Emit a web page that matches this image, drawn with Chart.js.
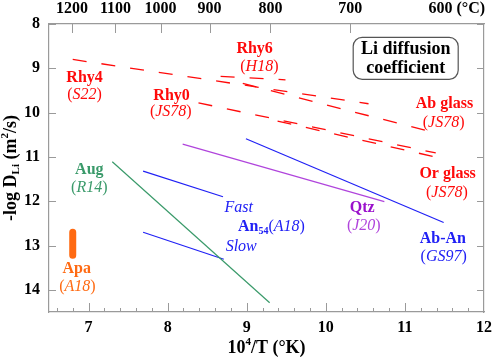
<!DOCTYPE html>
<html>
<head>
<meta charset="utf-8">
<script src="https://cdn.jsdelivr.net/npm/chart.js@4.4.1/dist/chart.umd.min.js"></script>
<style>
  html, body { margin: 0; padding: 0; background: #fff; }
  #contenedor { width: 498px; height: 359px; }
</style>
</head>
<body>
<div id="contenedor"><canvas id="grafico" width="498" height="359"></canvas></div>
<script>
// x = 10^4/T (K), y = -log D_Li (m2/s); cada serie = extremos del segmento
const rhy4 = [[6.80, 8.80], [10.54, 9.80]];
const rhy6 = [[8.67, 9.18], [9.49, 9.26]];
const rhy0 = [[8.39, 9.78], [11.39, 10.91]];
const abGlass = [[8.95, 9.34], [11.39, 10.46]];
const orGlass = [[9.39, 10.19], [11.43, 11.02]];
const aug = [[7.30, 11.11], [9.29, 14.29]];
const an54Fast = [[7.69, 11.32], [8.70, 11.90]];
const an54Slow = [[7.69, 12.70], [8.71, 13.31]];
const qtz = [[8.19, 10.71], [10.74, 12.01]];
const abAn = [[8.99, 10.59], [11.49, 12.48]];
const apa = [[6.80, 12.70], [6.80, 13.22]];

const xTicks = [7, 8, 9, 10, 11, 12];
const yTicks = [8, 9, 10, 11, 12, 13, 14];
const tempLabels = [1200, 1100, 1000, 900, 800, 700, 600];   // °C
const tempPos = [6.79, 7.34, 7.91, 8.53, 9.30, 10.31, 11.45]; // donde caen en 10^4/T

const ROJO = '#ff0a0a';
const AZUL = '#2020f5';
const VERDE = '#3a9a6a';
const MORADO = '#b044dc';
const NARANJA = '#ff6a12';
const GRIS = '#9a9a9a';
const FAMILIA = '"Liberation Serif", "Times New Roman", serif';

const ref = txt => [['(', 'n'], [txt, 'i'], [')', 'n']];

// etiquetas en coordenadas de datos
const etiquetas = [
    { x: 6.95, y: 9.22, color: ROJO, partes: [['Rhy4', 'b']] },
    { x: 6.95, y: 9.60, color: ROJO, partes: ref('S22') },
    { x: 8.05, y: 9.62, color: ROJO, partes: [['Rhy0', 'b']] },
    { x: 8.04, y: 9.99, color: ROJO, partes: ref('JS78') },
    { x: 9.10, y: 8.56, color: ROJO, partes: [['Rhy6', 'b']] },
    { x: 9.16, y: 8.97, color: ROJO, partes: ref('H18') },
    { x: 11.50, y: 9.80, color: ROJO, partes: [['Ab glass', 'b']] },
    { x: 11.49, y: 10.23, color: ROJO, partes: ref('JS78') },
    { x: 11.54, y: 11.38, color: ROJO, partes: [['Or glass', 'b']] },
    { x: 11.53, y: 11.81, color: ROJO, partes: ref('JS78') },
    { x: 7.01, y: 11.29, color: VERDE, partes: [['Aug', 'b']] },
    { x: 7.01, y: 11.70, color: VERDE, partes: ref('R14') },
    { x: 8.90, y: 12.15, color: AZUL, partes: [['Fast', 'i']] },
    { x: 8.89, y: 12.58, color: AZUL, alinear: 'left', partes: [['An', 'b'], ['54', 'sub'], ...ref('A18')] },
    { x: 8.93, y: 13.03, color: AZUL, partes: [['Slow', 'i']] },
    { x: 10.46, y: 12.15, color: '#9a10cc', partes: [['Qtz', 'b']] },
    { x: 10.48, y: 12.56, color: MORADO, partes: ref('J20') },
    { x: 11.48, y: 12.85, color: AZUL, partes: [['Ab-An', 'b']] },
    { x: 11.49, y: 13.26, color: AZUL, partes: ref('GS97') },
    { x: 6.85, y: 13.53, color: NARANJA, partes: [['Apa', 'b']] },
    { x: 6.86, y: 13.93, color: NARANJA, partes: ref('A18') },
];

function fuente(estilo, tam) {
    if (estilo === 'b') return `bold ${tam}px ${FAMILIA}`;
    if (estilo === 'i') return `italic ${tam}px ${FAMILIA}`;
    if (estilo === 'sub' || estilo === 'sup') return `bold ${Math.round(tam * 0.62)}px ${FAMILIA}`;
    return `${tam}px ${FAMILIA}`;
}

function dibujarTexto(ctx, partes, x, y, tam, alinear) {
    ctx.textBaseline = 'middle';
    ctx.textAlign = 'left';
    let ancho = 0;
    partes.forEach(([t, e]) => { ctx.font = fuente(e, tam); ancho += ctx.measureText(t).width; });
    let cx = alinear === 'left' ? x : x - ancho / 2;
    partes.forEach(([t, e]) => {
        ctx.font = fuente(e, tam);
        let dy = 0;
        if (e === 'sub') dy = tam * 0.3;
        if (e === 'sup') dy = -tam * 0.32;
        ctx.fillText(t, cx, y + dy);
        cx += ctx.measureText(t).width;
    });
}

const decoracion = {
    id: 'decoracion',
    afterDraw(chart) {
        const { ctx, chartArea: a, scales } = chart;
        const sx = scales.x, sy = scales.y;
        ctx.save();

        // marcas hacia dentro
        ctx.strokeStyle = GRIS;
        ctx.lineWidth = 1;
        ctx.beginPath();
        for (let i = 33; i <= 59; i++) {
            const px = Math.round(sx.getPixelForValue(i / 5)) + 0.5;
            const largo = i % 5 === 0 ? 9 : 4;
            ctx.moveTo(px, a.bottom);
            ctx.lineTo(px, a.bottom - largo);
        }
        yTicks.forEach(v => {
            const py = Math.round(sy.getPixelForValue(v)) + 0.5;
            ctx.moveTo(a.left, py); ctx.lineTo(a.left + 7, py);
            ctx.moveTo(a.right, py); ctx.lineTo(a.right - 7, py);
        });
        // el 600 no lleva marca en el original
        tempPos.slice(0, -1).forEach(v => {
            const px = Math.round(sx.getPixelForValue(v)) + 0.5;
            ctx.moveTo(px, a.top); ctx.lineTo(px, a.top + 9);
        });
        ctx.stroke();

        // "(°C)" detras del 600
        ctx.fillStyle = '#000';
        ctx.font = fuente('b', 16);
        const ultimo = tempPos[tempPos.length - 1];
        const w600 = ctx.measureText(String(tempLabels[tempLabels.length - 1])).width;
        ctx.textAlign = 'left';
        ctx.textBaseline = 'middle';
        ctx.fillText(' (°C)', sx.getPixelForValue(ultimo) + w600 / 2, a.top - 15);

        // titulos de ejes
        dibujarTexto(ctx, [['10', 'b'], ['4', 'sup'], ['/T (°K)', 'b']], (a.left + a.right) / 2, a.bottom + 36, 18);
        ctx.save();
        ctx.translate(a.left - 38, (a.top + a.bottom) / 2);
        ctx.rotate(-Math.PI / 2);
        dibujarTexto(ctx, [['-log D', 'b'], ['Li', 'sub'], [' (m', 'b'], ['2', 'sup'], ['/s)', 'b']], 0, 0, 18);
        ctx.restore();

        // recuadro
        const bx = sx.getPixelForValue(11.01), by = sy.getPixelForValue(8.775);
        ctx.strokeStyle = '#555';
        ctx.lineWidth = 1.2;
        ctx.beginPath();
        ctx.roundRect(bx - 52.5, by - 21, 105, 42, 9);
        ctx.stroke();
        ctx.fillStyle = '#000';
        dibujarTexto(ctx, [['Li diffusion', 'b']], bx, by - 9, 18);
        dibujarTexto(ctx, [['coefficient', 'b']], bx, by + 10, 18);

        // etiquetas de las series
        etiquetas.forEach(et => {
            ctx.fillStyle = et.color;
            dibujarTexto(ctx, et.partes, sx.getPixelForValue(et.x), sy.getPixelForValue(et.y), 16, et.alinear);
        });
        ctx.restore();
    }
};

function serie(puntos, color, extra) {
    return Object.assign({
        data: puntos.map(([x, y]) => ({ x, y })),
        showLine: true,
        borderColor: color,
        borderWidth: 1.2,
        pointRadius: 0,
        fill: false
    }, extra || {});
}
const discontinua = { borderDash: [14, 15], borderWidth: 1.3 };

const fuenteTicks = { family: FAMILIA, size: 16, weight: 'bold' };

new Chart(document.getElementById('grafico'), {
    type: 'scatter',
    data: {
        datasets: [
            serie(rhy4, ROJO, discontinua),
            serie(rhy6, ROJO, discontinua),
            serie(rhy0, ROJO, discontinua),
            serie(abGlass, ROJO, discontinua),
            serie(orGlass, ROJO, discontinua),
            serie(aug, VERDE),
            serie(an54Fast, AZUL),
            serie(an54Slow, AZUL),
            serie(qtz, MORADO),
            serie(abAn, AZUL),
            serie(apa, NARANJA, { borderWidth: 7, borderCapStyle: 'round' })
        ]
    },
    plugins: [decoracion],
    options: {
        responsive: false,
        animation: false,
        layout: { padding: 0 },
        plugins: { legend: { display: false }, tooltip: { enabled: false } },
        scales: {
            x: {
                type: 'linear', position: 'bottom', min: 6.5, max: 12,
                afterBuildTicks: s => { s.ticks = xTicks.map(v => ({ value: v })); },
                afterFit: s => { s.height = 47; },
                grid: { display: false, drawTicks: false },
                border: { display: true, color: GRIS, width: 1.2 },
                ticks: { padding: 6, color: '#000', font: fuenteTicks, autoSkip: false, maxRotation: 0 }
            },
            xTop: {
                axis: 'x', type: 'linear', position: 'top', min: 6.5, max: 12,
                afterBuildTicks: s => { s.ticks = tempPos.map(v => ({ value: v })); },
                afterFit: s => { s.height = 24; },
                grid: { display: false, drawTicks: false },
                border: { display: true, color: GRIS, width: 1.2 },
                ticks: {
                    padding: 6, color: '#000', font: fuenteTicks, autoSkip: false, maxRotation: 0,
                    callback: (v, i) => String(tempLabels[i])
                }
            },
            y: {
                type: 'linear', position: 'left', min: 8, max: 14.5, reverse: true,
                afterBuildTicks: s => { s.ticks = yTicks.map(v => ({ value: v })); },
                afterFit: s => { s.width = 49; },
                grid: { display: false, drawTicks: false },
                border: { display: true, color: GRIS, width: 1.2 },
                ticks: { padding: 9, color: '#000', font: fuenteTicks }
            },
            yRight: {
                axis: 'y', type: 'linear', position: 'right', min: 8, max: 14.5, reverse: true,
                afterFit: s => { s.width = 9; },
                grid: { display: false, drawTicks: false },
                border: { display: true, color: GRIS, width: 1.2 },
                ticks: { display: false }
            }
        }
    }
});
</script>
</body>
</html>
